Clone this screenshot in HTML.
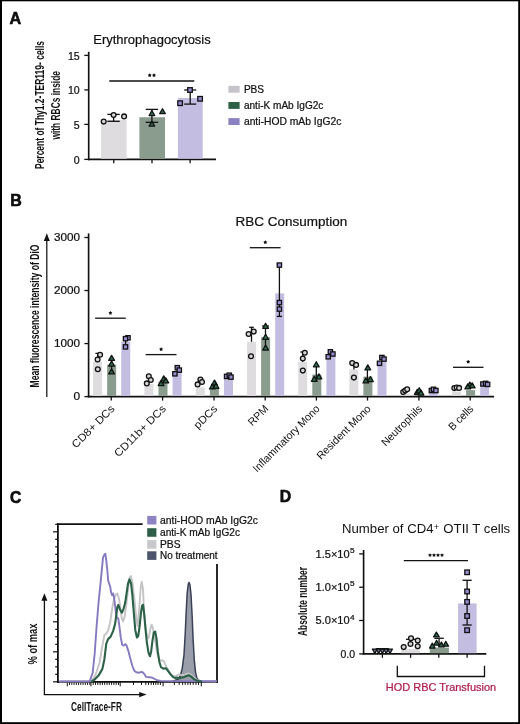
<!DOCTYPE html>
<html><head><meta charset="utf-8"><style>html,body{margin:0;padding:0;background:#fff;}svg{display:block;will-change:transform;} text{font-family:"Liberation Sans", sans-serif;}</style></head><body>
<svg width="520" height="724" viewBox="0 0 520 724">
<rect x="0" y="0" width="520" height="724" fill="#fff"/>
<rect x="0" y="0" width="520" height="1.3" fill="#000"/><rect x="0" y="0" width="2" height="724" fill="#000"/><rect x="518.2" y="0" width="1.8" height="724" fill="#000"/><rect x="0" y="722.2" width="520" height="1.8" fill="#000"/>
<text x="9.6" y="23.7" font-size="16.2" text-anchor="start" font-weight="bold" fill="#111" stroke="#000" stroke-width="0.55">A</text>
<text x="93.3" y="43.9" font-size="13.3" text-anchor="start" font-weight="normal" fill="#111" textLength="117.4" lengthAdjust="spacingAndGlyphs" stroke="#111" stroke-width="0.22">Erythrophagocytosis</text>
<text transform="translate(44.2,105) rotate(-90) scale(1.0,1)" font-size="13.2" text-anchor="middle" font-weight="bold" fill="#111" textLength="128" lengthAdjust="spacingAndGlyphs">Percent of Thy1.2-TER119- cells</text>
<text transform="translate(59.6,105.3) rotate(-90) scale(1.0,1)" font-size="13.2" text-anchor="middle" font-weight="bold" fill="#111" textLength="68.6" lengthAdjust="spacingAndGlyphs">with RBCs inside</text>
<line x1="88.7" y1="51.8" x2="88.7" y2="160.20000000000002" stroke="#111" stroke-width="1.65"/>
<line x1="87.9" y1="159.4" x2="216" y2="159.4" stroke="#111" stroke-width="1.65"/>
<line x1="84.3" y1="55.4" x2="88.7" y2="55.4" stroke="#111" stroke-width="1.3"/>
<text x="79.7" y="59.5" font-size="10.6" text-anchor="end" font-weight="normal" fill="#111" stroke="#111" stroke-width="0.22">15</text>
<line x1="84.3" y1="89.9" x2="88.7" y2="89.9" stroke="#111" stroke-width="1.3"/>
<text x="79.7" y="94.0" font-size="10.6" text-anchor="end" font-weight="normal" fill="#111" stroke="#111" stroke-width="0.22">10</text>
<line x1="84.3" y1="124.4" x2="88.7" y2="124.4" stroke="#111" stroke-width="1.3"/>
<text x="79.7" y="128.5" font-size="10.6" text-anchor="end" font-weight="normal" fill="#111" stroke="#111" stroke-width="0.22">5</text>
<line x1="84.3" y1="159.4" x2="88.7" y2="159.4" stroke="#111" stroke-width="1.3"/>
<text x="79.7" y="163.5" font-size="10.6" text-anchor="end" font-weight="normal" fill="#111" stroke="#111" stroke-width="0.22">0</text>
<line x1="113.75" y1="159.4" x2="113.75" y2="163.2" stroke="#111" stroke-width="1.3"/>
<line x1="152" y1="159.4" x2="152" y2="163.2" stroke="#111" stroke-width="1.3"/>
<line x1="190.1" y1="159.4" x2="190.1" y2="163.2" stroke="#111" stroke-width="1.3"/>
<rect x="101" y="120.0" width="25.7" height="38.70000000000002" fill="#dedcdf"/>
<rect x="139.4" y="117.25" width="25.6" height="41.45000000000002" fill="#8a9c8e"/>
<rect x="177.9" y="98.0" width="24.8" height="60.70000000000002" fill="#c3bde1"/>
<line x1="113.6" y1="114.4" x2="113.6" y2="121.3" stroke="#111" stroke-width="1.3"/>
<line x1="107.39999999999999" y1="114.4" x2="119.8" y2="114.4" stroke="#111" stroke-width="1.3"/>
<line x1="107.39999999999999" y1="121.3" x2="119.8" y2="121.3" stroke="#111" stroke-width="1.3"/>
<line x1="151.9" y1="109.4" x2="151.9" y2="122.3" stroke="#111" stroke-width="1.3"/>
<line x1="145.70000000000002" y1="109.4" x2="158.1" y2="109.4" stroke="#111" stroke-width="1.3"/>
<line x1="145.70000000000002" y1="122.3" x2="158.1" y2="122.3" stroke="#111" stroke-width="1.3"/>
<line x1="190.2" y1="90.0" x2="190.2" y2="104.1" stroke="#111" stroke-width="1.3"/>
<line x1="184.2" y1="90.0" x2="196.2" y2="90.0" stroke="#111" stroke-width="1.3"/>
<line x1="184.2" y1="104.1" x2="196.2" y2="104.1" stroke="#111" stroke-width="1.3"/>
<circle cx="103.7" cy="121.6" r="2.4" fill="#d6d5d8" stroke="#111" stroke-width="1.3"/>
<circle cx="113.6" cy="115.0" r="2.4" fill="#d6d5d8" stroke="#111" stroke-width="1.3"/>
<circle cx="124.1" cy="116.4" r="2.4" fill="#d6d5d8" stroke="#111" stroke-width="1.3"/>
<polygon points="151.90,110.67 149.10,115.52 154.70,115.52" fill="#2c6b4c" stroke="#111" stroke-width="1.25" stroke-linejoin="round"/>
<polygon points="162.50,108.77 159.70,113.62 165.30,113.62" fill="#2c6b4c" stroke="#111" stroke-width="1.25" stroke-linejoin="round"/>
<polygon points="151.90,121.27 149.10,126.12 154.70,126.12" fill="#2c6b4c" stroke="#111" stroke-width="1.25" stroke-linejoin="round"/>
<rect x="187.70" y="87.70" width="4.6" height="4.6" fill="#958dcf" stroke="#111" stroke-width="1.3"/>
<rect x="177.80" y="100.90" width="4.6" height="4.6" fill="#958dcf" stroke="#111" stroke-width="1.3"/>
<rect x="197.80" y="96.50" width="4.6" height="4.6" fill="#958dcf" stroke="#111" stroke-width="1.3"/>
<line x1="109.3" y1="81.0" x2="194.3" y2="81.0" stroke="#111" stroke-width="1.3"/>
<polygon points="149.70,73.25 150.38,74.37 151.65,74.67 150.79,75.66 150.90,76.96 149.70,76.45 148.50,76.96 148.61,75.66 147.75,74.67 149.02,74.37" fill="#111"/>
<polygon points="154.00,73.25 154.68,74.37 155.95,74.67 155.09,75.66 155.20,76.96 154.00,76.45 152.80,76.96 152.91,75.66 152.05,74.67 153.32,74.37" fill="#111"/>
<rect x="228.4" y="85.8" width="11.2" height="6.9" fill="#c6c4ca"/>
<text x="243.9" y="92.5" font-size="10.1" text-anchor="start" font-weight="normal" fill="#111" stroke="#111" stroke-width="0.22">PBS</text>
<rect x="228.4" y="102.0" width="11.2" height="6.9" fill="#2d6146"/>
<text x="243.9" y="108.7" font-size="10.1" text-anchor="start" font-weight="normal" fill="#111" textLength="79.5" lengthAdjust="spacingAndGlyphs" stroke="#111" stroke-width="0.22">anti-K mAb IgG2c</text>
<rect x="228.4" y="118.1" width="11.2" height="6.9" fill="#8b82c2"/>
<text x="243.9" y="124.8" font-size="10.1" text-anchor="start" font-weight="normal" fill="#111" textLength="97.5" lengthAdjust="spacingAndGlyphs" stroke="#111" stroke-width="0.22">anti-HOD mAb IgG2c</text>
<text x="10.3" y="205.8" font-size="16.0" text-anchor="start" font-weight="bold" fill="#111" stroke="#000" stroke-width="0.55">B</text>
<text x="235.6" y="225.8" font-size="13.6" text-anchor="start" font-weight="normal" fill="#111" textLength="111.6" lengthAdjust="spacingAndGlyphs" stroke="#111" stroke-width="0.22">RBC Consumption</text>
<text transform="translate(38.9,316) rotate(-90) scale(1.0,1)" font-size="13.2" text-anchor="middle" font-weight="bold" fill="#111" textLength="143" lengthAdjust="spacingAndGlyphs">Mean fluorescence intensity of DiO</text>
<line x1="46.8" y1="397" x2="46.8" y2="240" stroke="#111" stroke-width="1.25"/>
<polygon points="46.8,233.3 43.8,241.0 49.8,241.0" fill="#111"/>
<line x1="88.6" y1="233.4" x2="88.6" y2="397.40000000000003" stroke="#111" stroke-width="1.65"/>
<line x1="87.8" y1="396.6" x2="494.1" y2="396.6" stroke="#111" stroke-width="1.65"/>
<line x1="84.4" y1="396.6" x2="88.6" y2="396.6" stroke="#111" stroke-width="1.3"/>
<text x="80.0" y="400.20000000000005" font-size="10.0" text-anchor="end" font-weight="normal" fill="#111" textLength="6.6" lengthAdjust="spacingAndGlyphs" stroke="#111" stroke-width="0.22">0</text>
<line x1="84.4" y1="343.56666666666666" x2="88.6" y2="343.56666666666666" stroke="#111" stroke-width="1.3"/>
<text x="80.0" y="347.1666666666667" font-size="10.0" text-anchor="end" font-weight="normal" fill="#111" textLength="26" lengthAdjust="spacingAndGlyphs" stroke="#111" stroke-width="0.22">1000</text>
<line x1="84.4" y1="290.5333333333333" x2="88.6" y2="290.5333333333333" stroke="#111" stroke-width="1.3"/>
<text x="80.0" y="294.1333333333333" font-size="10.0" text-anchor="end" font-weight="normal" fill="#111" textLength="26" lengthAdjust="spacingAndGlyphs" stroke="#111" stroke-width="0.22">2000</text>
<line x1="84.4" y1="237.5" x2="88.6" y2="237.5" stroke="#111" stroke-width="1.3"/>
<text x="80.0" y="241.1" font-size="10.0" text-anchor="end" font-weight="normal" fill="#111" textLength="26" lengthAdjust="spacingAndGlyphs" stroke="#111" stroke-width="0.22">3000</text>
<line x1="111.25" y1="396.6" x2="111.25" y2="400.6" stroke="#111" stroke-width="1.3"/>
<line x1="162.6" y1="396.6" x2="162.6" y2="400.6" stroke="#111" stroke-width="1.3"/>
<line x1="214.0" y1="396.6" x2="214.0" y2="400.6" stroke="#111" stroke-width="1.3"/>
<line x1="265.2" y1="396.6" x2="265.2" y2="400.6" stroke="#111" stroke-width="1.3"/>
<line x1="316.4" y1="396.6" x2="316.4" y2="400.6" stroke="#111" stroke-width="1.3"/>
<line x1="367.5" y1="396.6" x2="367.5" y2="400.6" stroke="#111" stroke-width="1.3"/>
<line x1="418.9" y1="396.6" x2="418.9" y2="400.6" stroke="#111" stroke-width="1.3"/>
<line x1="470.2" y1="396.6" x2="470.2" y2="400.6" stroke="#111" stroke-width="1.3"/>
<rect x="93.05" y="361.6" width="9.0" height="34.30000000000001" fill="#dedcdf"/>
<rect x="107.15" y="364.7" width="9.0" height="31.200000000000045" fill="#8a9c8e"/>
<rect x="121.25" y="341.8" width="9.0" height="54.10000000000002" fill="#c3bde1"/>
<rect x="144.4" y="383.9" width="9.0" height="12.000000000000057" fill="#dedcdf"/>
<rect x="158.5" y="381.4" width="9.0" height="14.500000000000057" fill="#8a9c8e"/>
<rect x="172.6" y="371.3" width="9.0" height="24.600000000000023" fill="#c3bde1"/>
<rect x="195.8" y="387.3" width="9.0" height="8.600000000000023" fill="#dedcdf"/>
<rect x="209.9" y="388.5" width="9.0" height="7.400000000000034" fill="#8a9c8e"/>
<rect x="224.0" y="377.6" width="9.0" height="18.30000000000001" fill="#c3bde1"/>
<rect x="247.0" y="341.8" width="9.0" height="54.10000000000002" fill="#dedcdf"/>
<rect x="261.09999999999997" y="337.2" width="9.0" height="58.700000000000045" fill="#8a9c8e"/>
<rect x="275.2" y="293.4" width="9.0" height="102.50000000000006" fill="#c3bde1"/>
<rect x="298.2" y="361.9" width="9.0" height="34.00000000000006" fill="#dedcdf"/>
<rect x="312.29999999999995" y="374.6" width="9.0" height="21.30000000000001" fill="#8a9c8e"/>
<rect x="326.4" y="356.4" width="9.0" height="39.50000000000006" fill="#c3bde1"/>
<rect x="349.3" y="369.6" width="9.0" height="26.30000000000001" fill="#dedcdf"/>
<rect x="363.4" y="376.6" width="9.0" height="19.30000000000001" fill="#8a9c8e"/>
<rect x="377.5" y="362.1" width="9.0" height="33.80000000000001" fill="#c3bde1"/>
<rect x="400.7" y="393.5" width="9.0" height="2.400000000000034" fill="#dedcdf"/>
<rect x="414.79999999999995" y="394.1" width="9.0" height="1.8000000000000114" fill="#8a9c8e"/>
<rect x="428.9" y="392.9" width="9.0" height="3.000000000000057" fill="#c3bde1"/>
<rect x="452.0" y="391.5" width="9.0" height="4.400000000000034" fill="#dedcdf"/>
<rect x="466.09999999999997" y="390.1" width="9.0" height="5.800000000000011" fill="#8a9c8e"/>
<rect x="480.2" y="386.8" width="9.0" height="9.100000000000023" fill="#c3bde1"/>
<line x1="97.8" y1="353.4" x2="97.8" y2="362.0" stroke="#111" stroke-width="1.3"/>
<line x1="95.39999999999999" y1="353.4" x2="100.2" y2="353.4" stroke="#111" stroke-width="1.3"/>
<line x1="111.6" y1="356.0" x2="111.6" y2="372.0" stroke="#111" stroke-width="1.3"/>
<line x1="125.6" y1="338.7" x2="125.6" y2="346.9" stroke="#111" stroke-width="1.3"/>
<line x1="251.5" y1="327.3" x2="251.5" y2="341.8" stroke="#111" stroke-width="1.3"/>
<line x1="249.2" y1="327.3" x2="253.8" y2="327.3" stroke="#111" stroke-width="1.3"/>
<line x1="265.5" y1="326.0" x2="265.5" y2="347.5" stroke="#111" stroke-width="1.3"/>
<line x1="262.1" y1="326.0" x2="268.9" y2="326.0" stroke="#111" stroke-width="1.3"/>
<line x1="279.4" y1="264.0" x2="279.4" y2="316.4" stroke="#111" stroke-width="1.3"/>
<line x1="276.79999999999995" y1="264.0" x2="282.0" y2="264.0" stroke="#111" stroke-width="1.3"/>
<line x1="276.79999999999995" y1="316.4" x2="282.0" y2="316.4" stroke="#111" stroke-width="1.3"/>
<line x1="316.3" y1="364.5" x2="316.3" y2="378.7" stroke="#111" stroke-width="1.3"/>
<line x1="302.7" y1="352.0" x2="302.7" y2="361.9" stroke="#111" stroke-width="1.3"/>
<line x1="300.4" y1="352.0" x2="305.0" y2="352.0" stroke="#111" stroke-width="1.3"/>
<line x1="353.9" y1="363.6" x2="353.9" y2="369.6" stroke="#111" stroke-width="1.3"/>
<line x1="351.59999999999997" y1="363.6" x2="356.2" y2="363.6" stroke="#111" stroke-width="1.3"/>
<line x1="367.4" y1="367.6" x2="367.4" y2="380.0" stroke="#111" stroke-width="1.3"/>
<circle cx="100.1" cy="354.8" r="2.4" fill="#d6d5d8" stroke="#111" stroke-width="1.3"/>
<circle cx="97.6" cy="359.5" r="2.4" fill="#d6d5d8" stroke="#111" stroke-width="1.3"/>
<circle cx="97.8" cy="369.2" r="2.4" fill="#d6d5d8" stroke="#111" stroke-width="1.3"/>
<polygon points="111.60,355.35 108.70,360.37 114.50,360.37" fill="#2c6b4c" stroke="#111" stroke-width="1.25" stroke-linejoin="round"/>
<polygon points="111.60,361.05 108.70,366.07 114.50,366.07" fill="#2c6b4c" stroke="#111" stroke-width="1.25" stroke-linejoin="round"/>
<polygon points="111.60,368.85 108.70,373.87 114.50,373.87" fill="#2c6b4c" stroke="#111" stroke-width="1.25" stroke-linejoin="round"/>
<rect x="125.85" y="335.65" width="4.3" height="4.3" fill="#958dcf" stroke="#111" stroke-width="1.3"/>
<rect x="123.35" y="336.55" width="4.3" height="4.3" fill="#958dcf" stroke="#111" stroke-width="1.3"/>
<rect x="123.35" y="344.75" width="4.3" height="4.3" fill="#958dcf" stroke="#111" stroke-width="1.3"/>
<circle cx="148.8" cy="376.2" r="2.4" fill="#d6d5d8" stroke="#111" stroke-width="1.3"/>
<circle cx="150.8" cy="380.0" r="2.4" fill="#d6d5d8" stroke="#111" stroke-width="1.3"/>
<circle cx="146.8" cy="383.4" r="2.4" fill="#d6d5d8" stroke="#111" stroke-width="1.3"/>
<polygon points="161.10,380.65 158.20,385.67 164.00,385.67" fill="#2c6b4c" stroke="#111" stroke-width="1.25" stroke-linejoin="round"/>
<polygon points="163.80,375.85 160.90,380.87 166.70,380.87" fill="#2c6b4c" stroke="#111" stroke-width="1.25" stroke-linejoin="round"/>
<polygon points="165.80,377.85 162.90,382.87 168.70,382.87" fill="#2c6b4c" stroke="#111" stroke-width="1.25" stroke-linejoin="round"/>
<rect x="175.15" y="365.55" width="4.3" height="4.3" fill="#958dcf" stroke="#111" stroke-width="1.3"/>
<rect x="177.15" y="367.95" width="4.3" height="4.3" fill="#958dcf" stroke="#111" stroke-width="1.3"/>
<rect x="172.75" y="371.65" width="4.3" height="4.3" fill="#958dcf" stroke="#111" stroke-width="1.3"/>
<circle cx="200.4" cy="379.5" r="2.4" fill="#d6d5d8" stroke="#111" stroke-width="1.3"/>
<circle cx="202.0" cy="382.0" r="2.4" fill="#d6d5d8" stroke="#111" stroke-width="1.3"/>
<circle cx="197.6" cy="384.4" r="2.4" fill="#d6d5d8" stroke="#111" stroke-width="1.3"/>
<polygon points="214.50,380.05 211.60,385.07 217.40,385.07" fill="#2c6b4c" stroke="#111" stroke-width="1.25" stroke-linejoin="round"/>
<polygon points="212.30,383.95 209.40,388.97 215.20,388.97" fill="#2c6b4c" stroke="#111" stroke-width="1.25" stroke-linejoin="round"/>
<polygon points="216.00,383.25 213.10,388.27 218.90,388.27" fill="#2c6b4c" stroke="#111" stroke-width="1.25" stroke-linejoin="round"/>
<rect x="224.45" y="374.25" width="4.3" height="4.3" fill="#958dcf" stroke="#111" stroke-width="1.3"/>
<rect x="227.15" y="373.05" width="4.3" height="4.3" fill="#958dcf" stroke="#111" stroke-width="1.3"/>
<rect x="228.85" y="374.95" width="4.3" height="4.3" fill="#958dcf" stroke="#111" stroke-width="1.3"/>
<circle cx="248.6" cy="334.0" r="2.4" fill="#d6d5d8" stroke="#111" stroke-width="1.3"/>
<circle cx="253.7" cy="331.6" r="2.4" fill="#d6d5d8" stroke="#111" stroke-width="1.3"/>
<circle cx="251.0" cy="356.3" r="2.4" fill="#d6d5d8" stroke="#111" stroke-width="1.3"/>
<polygon points="265.60,323.25 262.70,328.27 268.50,328.27" fill="#2c6b4c" stroke="#111" stroke-width="1.25" stroke-linejoin="round"/>
<polygon points="265.60,334.25 262.70,339.27 268.50,339.27" fill="#2c6b4c" stroke="#111" stroke-width="1.25" stroke-linejoin="round"/>
<polygon points="265.60,345.05 262.70,350.07 268.50,350.07" fill="#2c6b4c" stroke="#111" stroke-width="1.25" stroke-linejoin="round"/>
<rect x="277.25" y="262.95" width="4.3" height="4.3" fill="#958dcf" stroke="#111" stroke-width="1.3"/>
<rect x="277.25" y="300.45" width="4.3" height="4.3" fill="#958dcf" stroke="#111" stroke-width="1.3"/>
<rect x="277.25" y="306.95" width="4.3" height="4.3" fill="#958dcf" stroke="#111" stroke-width="1.3"/>
<circle cx="304.8" cy="352.8" r="2.4" fill="#d6d5d8" stroke="#111" stroke-width="1.3"/>
<circle cx="302.8" cy="358.5" r="2.4" fill="#d6d5d8" stroke="#111" stroke-width="1.3"/>
<circle cx="302.8" cy="370.6" r="2.4" fill="#d6d5d8" stroke="#111" stroke-width="1.3"/>
<polygon points="316.30,361.75 313.40,366.77 319.20,366.77" fill="#2c6b4c" stroke="#111" stroke-width="1.25" stroke-linejoin="round"/>
<polygon points="314.30,376.25 311.40,381.27 317.20,381.27" fill="#2c6b4c" stroke="#111" stroke-width="1.25" stroke-linejoin="round"/>
<polygon points="318.90,373.85 316.00,378.87 321.80,378.87" fill="#2c6b4c" stroke="#111" stroke-width="1.25" stroke-linejoin="round"/>
<rect x="328.25" y="349.65" width="4.3" height="4.3" fill="#958dcf" stroke="#111" stroke-width="1.3"/>
<rect x="330.75" y="351.85" width="4.3" height="4.3" fill="#958dcf" stroke="#111" stroke-width="1.3"/>
<rect x="326.05" y="354.65" width="4.3" height="4.3" fill="#958dcf" stroke="#111" stroke-width="1.3"/>
<circle cx="352.2" cy="363.1" r="2.4" fill="#d6d5d8" stroke="#111" stroke-width="1.3"/>
<circle cx="356.1" cy="364.9" r="2.4" fill="#d6d5d8" stroke="#111" stroke-width="1.3"/>
<circle cx="353.9" cy="377.6" r="2.4" fill="#d6d5d8" stroke="#111" stroke-width="1.3"/>
<polygon points="367.80,364.85 364.90,369.87 370.70,369.87" fill="#2c6b4c" stroke="#111" stroke-width="1.25" stroke-linejoin="round"/>
<polygon points="365.80,377.95 362.90,382.97 368.70,382.97" fill="#2c6b4c" stroke="#111" stroke-width="1.25" stroke-linejoin="round"/>
<polygon points="370.40,376.55 367.50,381.57 373.30,381.57" fill="#2c6b4c" stroke="#111" stroke-width="1.25" stroke-linejoin="round"/>
<rect x="379.75" y="355.35" width="4.3" height="4.3" fill="#958dcf" stroke="#111" stroke-width="1.3"/>
<rect x="381.85" y="356.95" width="4.3" height="4.3" fill="#958dcf" stroke="#111" stroke-width="1.3"/>
<rect x="377.35" y="361.15" width="4.3" height="4.3" fill="#958dcf" stroke="#111" stroke-width="1.3"/>
<circle cx="403.2" cy="392.1" r="2.4" fill="#d6d5d8" stroke="#111" stroke-width="1.3"/>
<circle cx="405.2" cy="390.5" r="2.4" fill="#d6d5d8" stroke="#111" stroke-width="1.3"/>
<circle cx="407.2" cy="389.3" r="2.4" fill="#d6d5d8" stroke="#111" stroke-width="1.3"/>
<polygon points="417.30,389.35 414.40,394.37 420.20,394.37" fill="#2c6b4c" stroke="#111" stroke-width="1.25" stroke-linejoin="round"/>
<polygon points="419.30,387.75 416.40,392.77 422.20,392.77" fill="#2c6b4c" stroke="#111" stroke-width="1.25" stroke-linejoin="round"/>
<polygon points="421.00,390.05 418.10,395.07 423.90,395.07" fill="#2c6b4c" stroke="#111" stroke-width="1.25" stroke-linejoin="round"/>
<rect x="429.25" y="388.35" width="4.3" height="4.3" fill="#958dcf" stroke="#111" stroke-width="1.3"/>
<rect x="431.35" y="387.15" width="4.3" height="4.3" fill="#958dcf" stroke="#111" stroke-width="1.3"/>
<rect x="433.75" y="388.35" width="4.3" height="4.3" fill="#958dcf" stroke="#111" stroke-width="1.3"/>
<circle cx="454.3" cy="388.1" r="2.4" fill="#d6d5d8" stroke="#111" stroke-width="1.3"/>
<circle cx="456.7" cy="387.5" r="2.4" fill="#d6d5d8" stroke="#111" stroke-width="1.3"/>
<circle cx="459.1" cy="387.9" r="2.4" fill="#d6d5d8" stroke="#111" stroke-width="1.3"/>
<polygon points="469.80,382.05 466.90,387.07 472.70,387.07" fill="#2c6b4c" stroke="#111" stroke-width="1.25" stroke-linejoin="round"/>
<polygon points="467.80,383.85 464.90,388.87 470.70,388.87" fill="#2c6b4c" stroke="#111" stroke-width="1.25" stroke-linejoin="round"/>
<polygon points="472.20,382.85 469.30,387.87 475.10,387.87" fill="#2c6b4c" stroke="#111" stroke-width="1.25" stroke-linejoin="round"/>
<rect x="480.75" y="381.85" width="4.3" height="4.3" fill="#958dcf" stroke="#111" stroke-width="1.3"/>
<rect x="483.45" y="381.25" width="4.3" height="4.3" fill="#958dcf" stroke="#111" stroke-width="1.3"/>
<rect x="485.45" y="382.25" width="4.3" height="4.3" fill="#958dcf" stroke="#111" stroke-width="1.3"/>
<line x1="95.1" y1="318.2" x2="125.8" y2="318.2" stroke="#111" stroke-width="1.3"/>
<polygon points="110.40,310.95 111.08,312.07 112.35,312.37 111.49,313.36 111.60,314.66 110.40,314.15 109.20,314.66 109.31,313.36 108.45,312.37 109.72,312.07" fill="#111"/>
<line x1="145.6" y1="354.6" x2="176.5" y2="354.6" stroke="#111" stroke-width="1.3"/>
<polygon points="161.10,347.25 161.78,348.37 163.05,348.67 162.19,349.66 162.30,350.96 161.10,350.45 159.90,350.96 160.01,349.66 159.15,348.67 160.42,348.37" fill="#111"/>
<line x1="249.8" y1="247.7" x2="280.6" y2="247.7" stroke="#111" stroke-width="1.3"/>
<polygon points="265.30,240.25 265.98,241.37 267.25,241.67 266.39,242.66 266.50,243.96 265.30,243.45 264.10,243.96 264.21,242.66 263.35,241.67 264.62,241.37" fill="#111"/>
<line x1="453.0" y1="367.3" x2="483.5" y2="367.3" stroke="#111" stroke-width="1.3"/>
<polygon points="468.20,359.75 468.88,360.87 470.15,361.17 469.29,362.16 469.40,363.46 468.20,362.95 467.00,363.46 467.11,362.16 466.25,361.17 467.52,360.87" fill="#111"/>
<text transform="translate(115.25,409.5) rotate(-45) scale(1.0,1)" font-size="10.8" text-anchor="end" font-weight="normal" fill="#111" textLength="55.4" lengthAdjust="spacingAndGlyphs">CD8+ DCs</text>
<text transform="translate(166.6,409.5) rotate(-45) scale(1.0,1)" font-size="10.8" text-anchor="end" font-weight="normal" fill="#111" textLength="68.0" lengthAdjust="spacingAndGlyphs">CD11b+ DCs</text>
<text transform="translate(218.0,409.5) rotate(-45) scale(1.0,1)" font-size="10.8" text-anchor="end" font-weight="normal" fill="#111" textLength="28.4" lengthAdjust="spacingAndGlyphs">pDCs</text>
<text transform="translate(269.2,409.5) rotate(-45) scale(1.0,1)" font-size="10.8" text-anchor="end" font-weight="normal" fill="#111" textLength="24.0" lengthAdjust="spacingAndGlyphs">RPM</text>
<text transform="translate(320.4,409.5) rotate(-45) scale(1.0,1)" font-size="10.8" text-anchor="end" font-weight="normal" fill="#111" textLength="89.5" lengthAdjust="spacingAndGlyphs">Inflammatory Mono</text>
<text transform="translate(371.5,409.5) rotate(-45) scale(1.0,1)" font-size="10.8" text-anchor="end" font-weight="normal" fill="#111" textLength="71.5" lengthAdjust="spacingAndGlyphs">Resident Mono</text>
<text transform="translate(422.9,409.5) rotate(-45) scale(1.0,1)" font-size="10.8" text-anchor="end" font-weight="normal" fill="#111" textLength="52.6" lengthAdjust="spacingAndGlyphs">Neutrophils</text>
<text transform="translate(474.2,409.5) rotate(-45) scale(1.0,1)" font-size="10.8" text-anchor="end" font-weight="normal" fill="#111" textLength="30.4" lengthAdjust="spacingAndGlyphs">B cells</text>
<text x="10.0" y="503.0" font-size="15.6" text-anchor="start" font-weight="bold" fill="#111" stroke="#000" stroke-width="0.55">C</text>
<line x1="57.0" y1="524.2" x2="142.6" y2="524.2" stroke="#111" stroke-width="1.8"/>
<line x1="57.9" y1="523.3" x2="57.9" y2="682.7" stroke="#111" stroke-width="1.8"/>
<line x1="57.0" y1="681.8" x2="217.9" y2="681.8" stroke="#111" stroke-width="1.8"/>
<line x1="217.0" y1="563.9" x2="217.0" y2="682.7" stroke="#111" stroke-width="1.8"/>
<line x1="53.0" y1="681.8" x2="57.9" y2="681.8" stroke="#111" stroke-width="1.2"/>
<line x1="55.2" y1="674.3" x2="57.9" y2="674.3" stroke="#111" stroke-width="1.2"/>
<line x1="55.2" y1="666.8" x2="57.9" y2="666.8" stroke="#111" stroke-width="1.2"/>
<line x1="55.2" y1="659.3" x2="57.9" y2="659.3" stroke="#111" stroke-width="1.2"/>
<line x1="53.0" y1="651.8" x2="57.9" y2="651.8" stroke="#111" stroke-width="1.2"/>
<line x1="55.2" y1="644.3" x2="57.9" y2="644.3" stroke="#111" stroke-width="1.2"/>
<line x1="55.2" y1="636.8" x2="57.9" y2="636.8" stroke="#111" stroke-width="1.2"/>
<line x1="55.2" y1="629.3" x2="57.9" y2="629.3" stroke="#111" stroke-width="1.2"/>
<line x1="53.0" y1="621.8" x2="57.9" y2="621.8" stroke="#111" stroke-width="1.2"/>
<line x1="55.2" y1="614.3" x2="57.9" y2="614.3" stroke="#111" stroke-width="1.2"/>
<line x1="55.2" y1="606.8" x2="57.9" y2="606.8" stroke="#111" stroke-width="1.2"/>
<line x1="55.2" y1="599.3" x2="57.9" y2="599.3" stroke="#111" stroke-width="1.2"/>
<line x1="53.0" y1="591.8" x2="57.9" y2="591.8" stroke="#111" stroke-width="1.2"/>
<line x1="55.2" y1="584.3" x2="57.9" y2="584.3" stroke="#111" stroke-width="1.2"/>
<line x1="55.2" y1="576.8" x2="57.9" y2="576.8" stroke="#111" stroke-width="1.2"/>
<line x1="55.2" y1="569.3" x2="57.9" y2="569.3" stroke="#111" stroke-width="1.2"/>
<line x1="53.0" y1="561.8" x2="57.9" y2="561.8" stroke="#111" stroke-width="1.2"/>
<line x1="55.2" y1="554.3" x2="57.9" y2="554.3" stroke="#111" stroke-width="1.2"/>
<line x1="55.2" y1="546.8" x2="57.9" y2="546.8" stroke="#111" stroke-width="1.2"/>
<line x1="55.2" y1="539.3" x2="57.9" y2="539.3" stroke="#111" stroke-width="1.2"/>
<line x1="53.0" y1="531.8" x2="57.9" y2="531.8" stroke="#111" stroke-width="1.2"/>
<line x1="55.2" y1="524.3" x2="57.9" y2="524.3" stroke="#111" stroke-width="1.2"/>
<line x1="67.3" y1="681.8" x2="67.3" y2="686.3" stroke="#111" stroke-width="1.0"/>
<line x1="69.55" y1="681.8" x2="69.55" y2="684.9" stroke="#111" stroke-width="1.0"/>
<line x1="71.8" y1="681.8" x2="71.8" y2="684.9" stroke="#111" stroke-width="1.0"/>
<line x1="74.05" y1="681.8" x2="74.05" y2="684.9" stroke="#111" stroke-width="1.0"/>
<line x1="76.3" y1="681.8" x2="76.3" y2="684.9" stroke="#111" stroke-width="1.0"/>
<line x1="78.55" y1="681.8" x2="78.55" y2="684.9" stroke="#111" stroke-width="1.0"/>
<line x1="80.8" y1="681.8" x2="80.8" y2="684.9" stroke="#111" stroke-width="1.0"/>
<line x1="83.05" y1="681.8" x2="83.05" y2="684.9" stroke="#111" stroke-width="1.0"/>
<line x1="85.3" y1="681.8" x2="85.3" y2="684.9" stroke="#111" stroke-width="1.0"/>
<line x1="87.55" y1="681.8" x2="87.55" y2="684.9" stroke="#111" stroke-width="1.0"/>
<line x1="89.8" y1="681.8" x2="89.8" y2="684.9" stroke="#111" stroke-width="1.0"/>
<line x1="90.9" y1="681.8" x2="90.9" y2="686.3" stroke="#111" stroke-width="1.0"/>
<line x1="93.2" y1="681.8" x2="93.2" y2="684.9" stroke="#111" stroke-width="1.0"/>
<line x1="95.5" y1="681.8" x2="95.5" y2="684.9" stroke="#111" stroke-width="1.0"/>
<line x1="97.8" y1="681.8" x2="97.8" y2="684.9" stroke="#111" stroke-width="1.0"/>
<line x1="100.1" y1="681.8" x2="100.1" y2="684.9" stroke="#111" stroke-width="1.0"/>
<line x1="102.39999999999999" y1="681.8" x2="102.39999999999999" y2="684.9" stroke="#111" stroke-width="1.0"/>
<line x1="104.69999999999999" y1="681.8" x2="104.69999999999999" y2="684.9" stroke="#111" stroke-width="1.0"/>
<line x1="106.99999999999999" y1="681.8" x2="106.99999999999999" y2="684.9" stroke="#111" stroke-width="1.0"/>
<line x1="109.29999999999998" y1="681.8" x2="109.29999999999998" y2="684.9" stroke="#111" stroke-width="1.0"/>
<line x1="111.59999999999998" y1="681.8" x2="111.59999999999998" y2="684.9" stroke="#111" stroke-width="1.0"/>
<line x1="113.89999999999998" y1="681.8" x2="113.89999999999998" y2="684.9" stroke="#111" stroke-width="1.0"/>
<line x1="116.19999999999997" y1="681.8" x2="116.19999999999997" y2="684.9" stroke="#111" stroke-width="1.0"/>
<line x1="118.49999999999997" y1="681.8" x2="118.49999999999997" y2="684.9" stroke="#111" stroke-width="1.0"/>
<line x1="120.2" y1="681.8" x2="120.2" y2="686.3" stroke="#111" stroke-width="1.0"/>
<line x1="133.5" y1="681.8" x2="133.5" y2="684.9" stroke="#111" stroke-width="1.0"/>
<line x1="141.5" y1="681.8" x2="141.5" y2="684.9" stroke="#111" stroke-width="1.0"/>
<line x1="145.8" y1="681.8" x2="145.8" y2="684.9" stroke="#111" stroke-width="1.0"/>
<line x1="148.5" y1="681.8" x2="148.5" y2="684.9" stroke="#111" stroke-width="1.0"/>
<line x1="151.2" y1="681.8" x2="151.2" y2="684.9" stroke="#111" stroke-width="1.0"/>
<line x1="153.5" y1="681.8" x2="153.5" y2="684.9" stroke="#111" stroke-width="1.0"/>
<line x1="155.8" y1="681.8" x2="155.8" y2="684.9" stroke="#111" stroke-width="1.0"/>
<line x1="158.0" y1="681.8" x2="158.0" y2="684.9" stroke="#111" stroke-width="1.0"/>
<line x1="160.4" y1="681.8" x2="160.4" y2="684.9" stroke="#111" stroke-width="1.0"/>
<line x1="163.1" y1="681.8" x2="163.1" y2="686.3" stroke="#111" stroke-width="1.0"/>
<line x1="174.4" y1="681.8" x2="174.4" y2="684.9" stroke="#111" stroke-width="1.0"/>
<line x1="179.2" y1="681.8" x2="179.2" y2="684.9" stroke="#111" stroke-width="1.0"/>
<line x1="182.6" y1="681.8" x2="182.6" y2="684.9" stroke="#111" stroke-width="1.0"/>
<line x1="185.2" y1="681.8" x2="185.2" y2="684.9" stroke="#111" stroke-width="1.0"/>
<line x1="187.9" y1="681.8" x2="187.9" y2="684.9" stroke="#111" stroke-width="1.0"/>
<line x1="190.3" y1="681.8" x2="190.3" y2="684.9" stroke="#111" stroke-width="1.0"/>
<line x1="193.2" y1="681.8" x2="193.2" y2="684.9" stroke="#111" stroke-width="1.0"/>
<line x1="196.0" y1="681.8" x2="196.0" y2="684.9" stroke="#111" stroke-width="1.0"/>
<line x1="198.5" y1="681.8" x2="198.5" y2="684.9" stroke="#111" stroke-width="1.0"/>
<line x1="201.3" y1="681.8" x2="201.3" y2="686.3" stroke="#111" stroke-width="1.0"/>
<line x1="44.4" y1="694.6" x2="44.4" y2="599.5" stroke="#111" stroke-width="1.3"/>
<polygon points="44.4,593.3 41.4,600.8 47.4,600.8" fill="#111"/>
<line x1="43.8" y1="694.6" x2="140.5" y2="694.6" stroke="#111" stroke-width="1.3"/>
<polygon points="146.6,694.6 139.2,691.9 139.2,697.3" fill="#111"/>
<text transform="translate(37.0,644.0) rotate(-90) scale(1.0,1)" font-size="13.0" text-anchor="middle" font-weight="bold" fill="#111" textLength="41" lengthAdjust="spacingAndGlyphs">% of max</text>
<text x="71.0" y="710.8" font-size="13.0" text-anchor="start" font-weight="bold" fill="#111" textLength="51" lengthAdjust="spacingAndGlyphs" >CellTrace-FR</text>
<path d="M172.0,681.5 L174.5,680.7 L177.9,679.0 L180.5,675.5 L182.2,668.6 L184.0,654.8 L185.2,634.1 L186.2,611.7 L187.2,592.8 L188.3,584.1 L189.1,582.4 L190.0,585.0 L191.0,594.5 L192.1,615.2 L193.1,639.3 L194.3,660.0 L195.5,672.1 L196.9,678.1 L198.6,680.3 L201.0,681.3" fill="#9a9eab" stroke="#3a4156" stroke-width="1.5" stroke-linejoin="round" stroke-linecap="round"/>
<path d="M60.0,681.2 L88.0,681.2 L91.8,681.0 L95.6,674.7 L99.5,663.0 L102.4,645.6 L104.4,635.0 L106.3,633.6 L108.2,630.2 L110.2,622.4 L112.1,608.9 L114.0,599.2 L116.0,594.4 L117.3,593.4 L118.9,598.2 L120.2,606.9 L121.8,618.5 L123.1,621.4 L124.7,616.6 L126.0,606.9 L127.6,593.4 L129.5,577.9 L130.9,576.0 L132.4,581.8 L134.4,599.2 L136.3,618.5 L137.6,626.3 L139.2,608.9 L140.7,587.6 L141.7,581.8 L143.1,589.5 L143.8,608.3 L145.2,623.8 L146.9,635.9 L148.3,638.4 L149.5,634.1 L150.7,627.2 L151.7,624.7 L152.9,628.1 L154.1,634.1 L155.5,642.8 L157.2,653.1 L159.0,659.1 L160.7,660.9 L162.4,660.3 L164.1,661.7 L165.9,666.0 L168.4,670.3 L171.0,674.1 L173.6,676.4 L176.2,675.9 L178.8,674.5 L181.4,675.2 L184.8,674.7 L188.3,673.4 L190.9,674.7 L193.4,677.2 L196.9,679.8 L200.0,681.0 L216.0,681.2" fill="none" stroke="#c4c4c6" stroke-width="1.9" stroke-linejoin="round" stroke-linecap="round"/>
<path d="M60.0,681.4 L88.0,681.4 L89.8,681.0 L92.7,672.7 L94.7,653.4 L96.6,626.3 L98.5,603.0 L100.5,583.7 L102.0,568.2 L103.0,557.6 L104.4,554.7 L105.3,553.7 L106.3,560.5 L107.3,570.2 L108.2,580.8 L109.2,583.7 L110.2,586.6 L111.1,592.4 L112.1,595.3 L113.1,593.4 L114.0,597.3 L115.0,605.0 L116.0,613.7 L116.9,617.6 L118.3,618.5 L119.4,626.3 L120.8,637.9 L122.2,644.7 L123.7,645.6 L125.3,644.1 L126.6,645.6 L128.5,651.4 L130.5,659.2 L132.4,666.0 L134.4,670.8 L136.3,672.3 L139.2,672.7 L141.5,671.8 L143.1,672.7 L145.0,675.0 L146.0,676.9 L149.5,677.2 L152.1,677.6 L154.7,679.0 L157.2,680.2 L160.7,680.9 L216.0,681.2" fill="none" stroke="#8679c0" stroke-width="1.9" stroke-linejoin="round" stroke-linecap="round"/>
<path d="M91.8,681.3 L94.7,679.5 L98.5,675.6 L102.4,668.9 L104.4,659.2 L106.3,643.7 L108.2,638.9 L110.5,636.9 L113.1,631.1 L115.0,624.4 L116.4,614.7 L117.3,606.9 L118.3,605.0 L119.8,608.9 L121.8,612.7 L123.3,609.8 L125.1,603.1 L126.6,593.4 L128.0,583.7 L129.5,579.4 L131.1,583.7 L132.4,595.3 L133.8,612.7 L135.3,630.2 L136.9,637.5 L138.2,636.0 L139.6,626.3 L140.9,613.4 L142.1,605.7 L143.1,604.8 L144.3,615.2 L145.5,629.0 L146.9,642.8 L148.6,653.1 L150.0,656.2 L151.2,651.4 L152.4,641.0 L153.8,632.4 L155.2,631.6 L156.4,637.6 L157.8,651.4 L159.3,661.7 L161.0,667.2 L163.3,668.6 L165.9,668.3 L167.6,670.3 L170.2,673.8 L172.8,676.9 L175.3,678.1 L177.1,677.6 L178.8,678.6 L181.4,677.8 L184.0,676.9 L186.6,675.9 L188.8,675.2 L190.9,676.4 L193.4,678.6 L196.0,680.3 L198.6,681.0 L201.0,681.3" fill="none" stroke="#2a6147" stroke-width="2.1" stroke-linejoin="round" stroke-linecap="round"/>
<rect x="147.2" y="515.9" width="9.2" height="8.6" fill="#8d85c3"/>
<text x="160.0" y="523.6999999999999" font-size="10.3" text-anchor="start" font-weight="normal" fill="#111" textLength="98" lengthAdjust="spacingAndGlyphs" stroke="#111" stroke-width="0.22">anti-HOD mAb IgG2c</text>
<rect x="147.2" y="528.2" width="9.2" height="8.6" fill="#2e5e47"/>
<text x="160.0" y="536.0" font-size="10.3" text-anchor="start" font-weight="normal" fill="#111" textLength="80" lengthAdjust="spacingAndGlyphs" stroke="#111" stroke-width="0.22">anti-K mAb IgG2c</text>
<rect x="147.2" y="540.1" width="9.2" height="8.6" fill="#c9c8cc"/>
<text x="160.0" y="547.9" font-size="10.3" text-anchor="start" font-weight="normal" fill="#111" stroke="#111" stroke-width="0.22">PBS</text>
<rect x="147.2" y="551.3" width="9.2" height="8.6" fill="#4d546b"/>
<text x="160.0" y="559.0999999999999" font-size="10.3" text-anchor="start" font-weight="normal" fill="#111" textLength="57.5" lengthAdjust="spacingAndGlyphs" stroke="#111" stroke-width="0.22">No treatment</text>
<text x="279.8" y="502.4" font-size="15.8" text-anchor="start" font-weight="bold" fill="#111" stroke="#000" stroke-width="0.55">D</text>
<text transform="translate(342.0,533.4) scale(0.970,1)" font-size="13.6" fill="#111">Number of CD4<tspan font-size="9.4" dy="-3.7" dx="0.3">+</tspan><tspan dy="3.7" dx="0.6"> OTII T cells</tspan></text>
<text transform="translate(307.3,601.5) rotate(-90) scale(1.0,1)" font-size="13.0" text-anchor="middle" font-weight="bold" fill="#111" textLength="69" lengthAdjust="spacingAndGlyphs">Absolute number</text>
<line x1="363.6" y1="550.0" x2="363.6" y2="654.6999999999999" stroke="#111" stroke-width="1.65"/>
<line x1="362.8" y1="653.9" x2="486.3" y2="653.9" stroke="#111" stroke-width="1.65"/>
<line x1="359.2" y1="553.9" x2="363.6" y2="553.9" stroke="#111" stroke-width="1.3"/>
<text x="315.6" y="557.6" font-size="10.0" text-anchor="start" font-weight="normal" fill="#111" textLength="34" lengthAdjust="spacingAndGlyphs" stroke="#111" stroke-width="0.22">1.5×10</text>
<text x="350.1" y="553.0" font-size="7.8" text-anchor="start" font-weight="normal" fill="#111" textLength="4.6" lengthAdjust="spacingAndGlyphs" stroke="#111" stroke-width="0.22">5</text>
<line x1="359.2" y1="587.2" x2="363.6" y2="587.2" stroke="#111" stroke-width="1.3"/>
<text x="315.6" y="590.9000000000001" font-size="10.0" text-anchor="start" font-weight="normal" fill="#111" textLength="34" lengthAdjust="spacingAndGlyphs" stroke="#111" stroke-width="0.22">1.0×10</text>
<text x="350.1" y="586.3000000000001" font-size="7.8" text-anchor="start" font-weight="normal" fill="#111" textLength="4.6" lengthAdjust="spacingAndGlyphs" stroke="#111" stroke-width="0.22">5</text>
<line x1="359.2" y1="620.5" x2="363.6" y2="620.5" stroke="#111" stroke-width="1.3"/>
<text x="315.6" y="624.2" font-size="10.0" text-anchor="start" font-weight="normal" fill="#111" textLength="34" lengthAdjust="spacingAndGlyphs" stroke="#111" stroke-width="0.22">5.0×10</text>
<text x="350.1" y="619.6" font-size="7.8" text-anchor="start" font-weight="normal" fill="#111" textLength="4.6" lengthAdjust="spacingAndGlyphs" stroke="#111" stroke-width="0.22">4</text>
<line x1="359.2" y1="653.9" x2="363.6" y2="653.9" stroke="#111" stroke-width="1.3"/>
<text x="355.0" y="657.6" font-size="10.0" text-anchor="end" font-weight="normal" fill="#111" textLength="14.5" lengthAdjust="spacingAndGlyphs" stroke="#111" stroke-width="0.22">0.0</text>
<line x1="382.4" y1="653.9" x2="382.4" y2="657.8" stroke="#111" stroke-width="1.3"/>
<line x1="410.6" y1="653.9" x2="410.6" y2="657.8" stroke="#111" stroke-width="1.3"/>
<line x1="438.8" y1="653.9" x2="438.8" y2="657.8" stroke="#111" stroke-width="1.3"/>
<line x1="467.1" y1="653.9" x2="467.1" y2="657.8" stroke="#111" stroke-width="1.3"/>
<rect x="401.1" y="649.1" width="18.7" height="4.099999999999909" fill="#dedcdf"/>
<rect x="429.7" y="647.6" width="19.2" height="5.599999999999909" fill="#8a9c8e"/>
<rect x="458.1" y="603.4" width="18.5" height="49.799999999999955" fill="#c3bde1"/>
<line x1="467.1" y1="580.3" x2="467.1" y2="625.0" stroke="#111" stroke-width="1.3"/>
<line x1="462.5" y1="580.3" x2="471.70000000000005" y2="580.3" stroke="#111" stroke-width="1.3"/>
<line x1="462.5" y1="625.0" x2="471.70000000000005" y2="625.0" stroke="#111" stroke-width="1.3"/>
<line x1="410.6" y1="639.3" x2="410.6" y2="646.0" stroke="#111" stroke-width="1.3"/>
<line x1="406.0" y1="639.3" x2="415.20000000000005" y2="639.3" stroke="#111" stroke-width="1.3"/>
<line x1="439.1" y1="638.3" x2="439.1" y2="646.0" stroke="#111" stroke-width="1.3"/>
<line x1="434.40000000000003" y1="638.3" x2="443.8" y2="638.3" stroke="#111" stroke-width="1.3"/>
<line x1="376.0" y1="648.6" x2="388.8" y2="648.6" stroke="#111" stroke-width="1.1"/>
<polygon points="374.80,653.39 372.30,649.06 377.30,649.06" fill="#6c7892" stroke="#111" stroke-width="1.25" stroke-linejoin="round"/>
<polygon points="378.60,653.39 376.10,649.06 381.10,649.06" fill="#6c7892" stroke="#111" stroke-width="1.25" stroke-linejoin="round"/>
<polygon points="382.40,653.39 379.90,649.06 384.90,649.06" fill="#6c7892" stroke="#111" stroke-width="1.25" stroke-linejoin="round"/>
<polygon points="386.20,653.39 383.70,649.06 388.70,649.06" fill="#6c7892" stroke="#111" stroke-width="1.25" stroke-linejoin="round"/>
<polygon points="390.00,653.39 387.50,649.06 392.50,649.06" fill="#6c7892" stroke="#111" stroke-width="1.25" stroke-linejoin="round"/>
<circle cx="403.7" cy="647.1" r="2.4" fill="#d6d5d8" stroke="#111" stroke-width="1.3"/>
<circle cx="411.0" cy="638.3" r="2.4" fill="#d6d5d8" stroke="#111" stroke-width="1.3"/>
<circle cx="410.5" cy="644.0" r="2.4" fill="#d6d5d8" stroke="#111" stroke-width="1.3"/>
<circle cx="417.7" cy="640.6" r="2.4" fill="#d6d5d8" stroke="#111" stroke-width="1.3"/>
<circle cx="417.7" cy="646.3" r="2.4" fill="#d6d5d8" stroke="#111" stroke-width="1.3"/>
<polygon points="436.40,632.07 433.60,636.92 439.20,636.92" fill="#2c6b4c" stroke="#111" stroke-width="1.25" stroke-linejoin="round"/>
<polygon points="432.30,643.17 429.50,648.02 435.10,648.02" fill="#2c6b4c" stroke="#111" stroke-width="1.25" stroke-linejoin="round"/>
<polygon points="436.60,640.37 433.80,645.22 439.40,645.22" fill="#2c6b4c" stroke="#111" stroke-width="1.25" stroke-linejoin="round"/>
<polygon points="441.40,642.07 438.60,646.92 444.20,646.92" fill="#2c6b4c" stroke="#111" stroke-width="1.25" stroke-linejoin="round"/>
<polygon points="445.80,641.37 443.00,646.22 448.60,646.22" fill="#2c6b4c" stroke="#111" stroke-width="1.25" stroke-linejoin="round"/>
<rect x="464.80" y="570.00" width="4.6" height="4.6" fill="#958dcf" stroke="#111" stroke-width="1.3"/>
<rect x="464.80" y="589.20" width="4.6" height="4.6" fill="#958dcf" stroke="#111" stroke-width="1.3"/>
<rect x="464.80" y="599.60" width="4.6" height="4.6" fill="#958dcf" stroke="#111" stroke-width="1.3"/>
<rect x="464.80" y="613.70" width="4.6" height="4.6" fill="#958dcf" stroke="#111" stroke-width="1.3"/>
<rect x="464.80" y="627.90" width="4.6" height="4.6" fill="#958dcf" stroke="#111" stroke-width="1.3"/>
<line x1="403.8" y1="560.7" x2="468.0" y2="560.7" stroke="#111" stroke-width="1.3"/>
<polygon points="430.00,553.15 430.68,554.27 431.95,554.57 431.09,555.56 431.20,556.86 430.00,556.35 428.80,556.86 428.91,555.56 428.05,554.57 429.32,554.27" fill="#111"/>
<polygon points="434.00,553.15 434.68,554.27 435.95,554.57 435.09,555.56 435.20,556.86 434.00,556.35 432.80,556.86 432.91,555.56 432.05,554.57 433.32,554.27" fill="#111"/>
<polygon points="438.00,553.15 438.68,554.27 439.95,554.57 439.09,555.56 439.20,556.86 438.00,556.35 436.80,556.86 436.91,555.56 436.05,554.57 437.32,554.27" fill="#111"/>
<polygon points="442.00,553.15 442.68,554.27 443.95,554.57 443.09,555.56 443.20,556.86 442.00,556.35 440.80,556.86 440.91,555.56 440.05,554.57 441.32,554.27" fill="#111"/>
<path d="M397.3,665.7 L397.3,676.5 L484.5,676.5 L484.5,665.7" fill="none" stroke="#111" stroke-width="1.3"/>
<text x="385.8" y="691.1" font-size="10.6" text-anchor="start" font-weight="normal" fill="#b01d4a" textLength="110.3" lengthAdjust="spacingAndGlyphs" stroke="#b01d4a" stroke-width="0.22">HOD RBC Transfusion</text>
</svg></body></html>
